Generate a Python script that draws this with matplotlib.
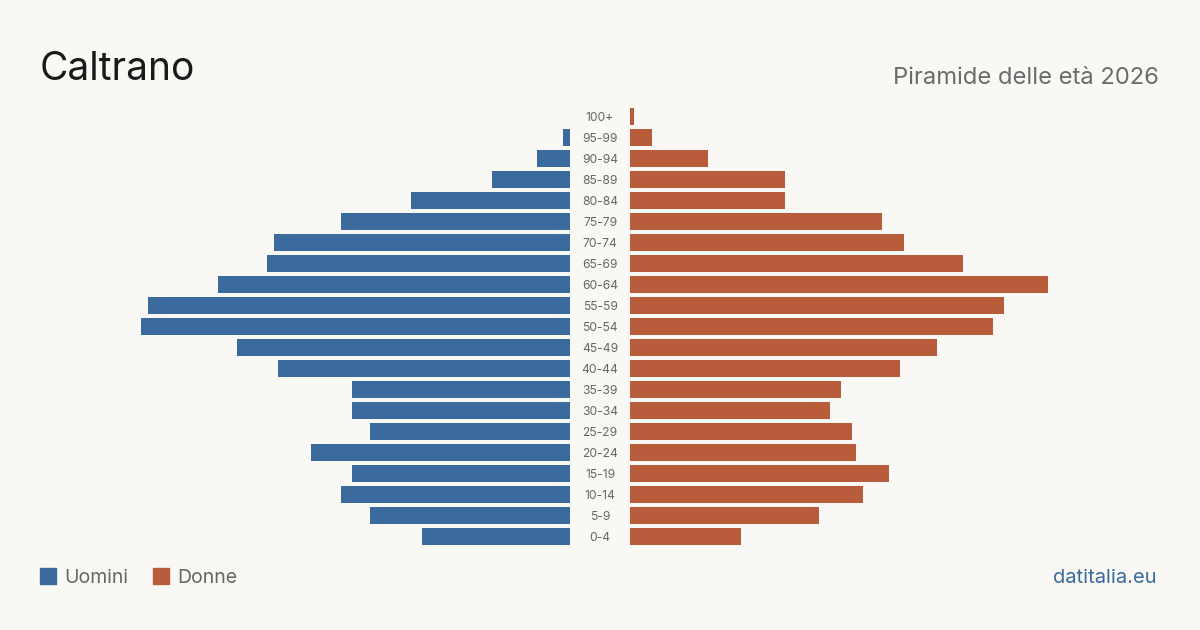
import matplotlib
matplotlib.use("Agg")
import matplotlib.pyplot as plt
import matplotlib.transforms as mtransforms
from matplotlib.patches import Rectangle

plt.rcParams['font.family'] = ['Inter', 'DejaVu Sans']

age_groups = ["0-4", "5-9", "10-14", "15-19", "20-24", "25-29", "30-34", "35-39",
              "40-44", "45-49", "50-54", "55-59", "60-64", "65-69", "70-74",
              "75-79", "80-84", "85-89", "90-94", "95-99", "100+"]
men = [40, 54, 62, 59, 70, 54, 59, 59, 79, 90, 116, 114, 95, 82, 80, 62, 43, 21, 9, 2, 0]
women = [30, 51, 63, 70, 61, 60, 54, 57, 73, 83, 98, 101, 113, 90, 74, 68, 42, 42, 21, 6, 1]

title = "Caltrano"
subtitle = "Piramide delle età 2026"
source = "datitalia.eu"

BG = "#f9f8f4"
BLUE = "#3b6b9c"
ORANGE = "#b95c3c"
W, H = 1200, 630
px_per_unit = 3.7

fig = plt.figure(figsize=(W / 100, H / 100), dpi=100, facecolor=BG)


def fx(px):
    return px / W


def fy(py):
    return 1 - py / H


# axes: rows 0..20, each row 21 px; bottom row center at y=536.5
ax_bottom = fy(547)
ax_height = 441 / H
half_w = 530
ax_l = fig.add_axes([fx(570 - half_w), ax_bottom, half_w / W, ax_height])
ax_r = fig.add_axes([fx(630), ax_bottom, half_w / W, ax_height])

pos = list(range(len(age_groups)))
ax_l.barh(pos, men, height=17 / 21, color=BLUE)
ax_r.barh(pos, women, height=17 / 21, color=ORANGE)

ax_l.set_xlim(half_w / px_per_unit, 0)
ax_r.set_xlim(0, half_w / px_per_unit)
for ax in (ax_l, ax_r):
    ax.set_ylim(-0.5, len(age_groups) - 0.5)
    ax.axis("off")
    ax.set_facecolor(BG)

trans = mtransforms.blended_transform_factory(fig.transFigure, ax_r.transData)
for i, lab in enumerate(age_groups):
    ax_r.text(0.5, i - 0.05, lab, transform=trans, ha="center", va="center",
              fontsize=8.7, color="#666666")

fig.text(fx(40), fy(80), title, fontsize=28, color="#1a1a1a", ha="left", va="baseline")
fig.text(fx(1159), fy(84), subtitle, fontsize=17.1, color="#6b6b6b", ha="right", va="baseline")

# legend
for x0, col, lab in [(40, BLUE, "Uomini"), (153, ORANGE, "Donne")]:
    fig.patches.append(Rectangle((fx(x0), fy(584)), 16 / W, 16 / H,
                                 transform=fig.transFigure, color=col))
    fig.text(fx(x0 + 24), fy(583), lab, fontsize=14, color="#666666",
             ha="left", va="baseline")

fig.text(fx(1157), fy(583), source, fontsize=14.5, color=BLUE, ha="right", va="baseline")

fig.savefig("out.png", dpi=100, facecolor=BG)
